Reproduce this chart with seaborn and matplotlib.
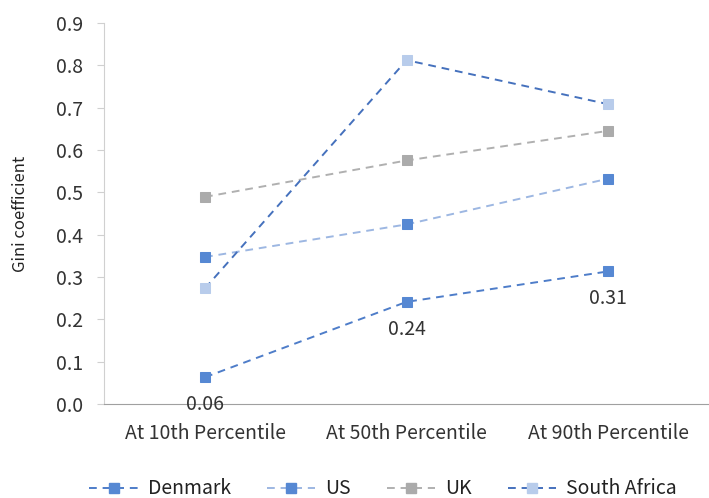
import numpy as np
import pandas as pd
import matplotlib
matplotlib.use("Agg")
import matplotlib.pyplot as plt
import seaborn as sns
from matplotlib.lines import Line2D

# ---------------------------------------------------------------------------
# Data
# ---------------------------------------------------------------------------
categories = ["At 10th Percentile", "At 50th Percentile", "At 90th Percentile"]
countries = ["Denmark", "US", "UK", "South Africa"]
denmark = [0.063, 0.241, 0.313]
us = [0.347, 0.424, 0.532]
uk = [0.489, 0.575, 0.645]
south_africa = [0.273, 0.812, 0.708]
denmark_labels = ["0.06", "0.24", "0.31"]

series = {"Denmark": denmark, "US": us, "UK": uk, "South Africa": south_africa}

# line colour, marker colour per country
line_colors = {"Denmark": "#4E7DC9", "US": "#9DB7E2", "UK": "#B0B0B0", "South Africa": "#4571BD"}
marker_colors = {"Denmark": "#5688D3", "US": "#5688D3", "UK": "#ABABAB", "South Africa": "#B8CCEB"}

df = pd.DataFrame(
    [(c, cat, v) for c in countries for cat, v in zip(categories, series[c])],
    columns=["country", "category", "gini"],
)
df["pos"] = df["category"].map({c: i for i, c in enumerate(categories)})

sns.set_style("white")
plt.rcParams["font.family"] = ["Noto Sans CJK KR", "DejaVu Sans"]

FS = 14
DASH = (0, (4, 3))

fig = plt.figure(figsize=(7.09, 4.98), dpi=100)
ax = fig.add_axes([0.147, 0.189, 0.853, 0.765])

for c in countries:
    sub = df[df["country"] == c]
    sns.lineplot(
        data=sub, x="pos", y="gini", ax=ax, color=line_colors[c],
        linestyle=DASH, linewidth=1.4, sort=False,
        marker="s", markersize=7.5, markerfacecolor=marker_colors[c],
        markeredgecolor=marker_colors[c], legend=False,
    )

# Value labels for Denmark below each point
for i, (v, lab) in enumerate(zip(denmark, denmark_labels)):
    ax.annotate(lab, (i, v), xytext=(0, -12), textcoords="offset points",
                ha="center", va="top", fontsize=FS, color="#333333")

ax.set_xlim(-0.5, 2.5)
ax.set_ylim(0, 0.9)
yticks = np.arange(0, 0.91, 0.1)
ax.set_yticks(yticks)
ax.set_yticklabels([f"{t:.1f}" for t in yticks])
ax.set_xticks(range(len(categories)))
ax.set_xticklabels(categories)
ax.set_xlabel("")
ax.set_ylabel("Gini coefficient", fontsize=12, color="#222222")
ax.yaxis.set_label_coords(-0.124, 0.5)

ax.tick_params(axis="y", which="major", left=True, length=5, width=0.8,
               color="#D0D0D0", labelsize=FS, labelcolor="#333333", pad=10)
ax.tick_params(axis="x", bottom=False, labelsize=FS, labelcolor="#333333", pad=10)

for side in ["top", "right"]:
    ax.spines[side].set_visible(False)
ax.spines["left"].set_color("#D0D0D0")
ax.spines["bottom"].set_color("#A0A0A0")
ax.spines["left"].set_linewidth(0.8)
ax.spines["bottom"].set_linewidth(0.8)

handles = [
    Line2D([0], [0], color=line_colors[c], linestyle=DASH, linewidth=1.4,
           marker="s", markersize=7.5, markerfacecolor=marker_colors[c],
           markeredgecolor=marker_colors[c])
    for c in countries
]
fig.legend(handles, countries, loc="lower center", bbox_to_anchor=(0.54, -0.038),
           ncol=4, frameon=False, fontsize=FS, handlelength=2.5, handletextpad=0.5,
           columnspacing=1.85, labelcolor="#222222")

fig.savefig("out.png", dpi=100)
